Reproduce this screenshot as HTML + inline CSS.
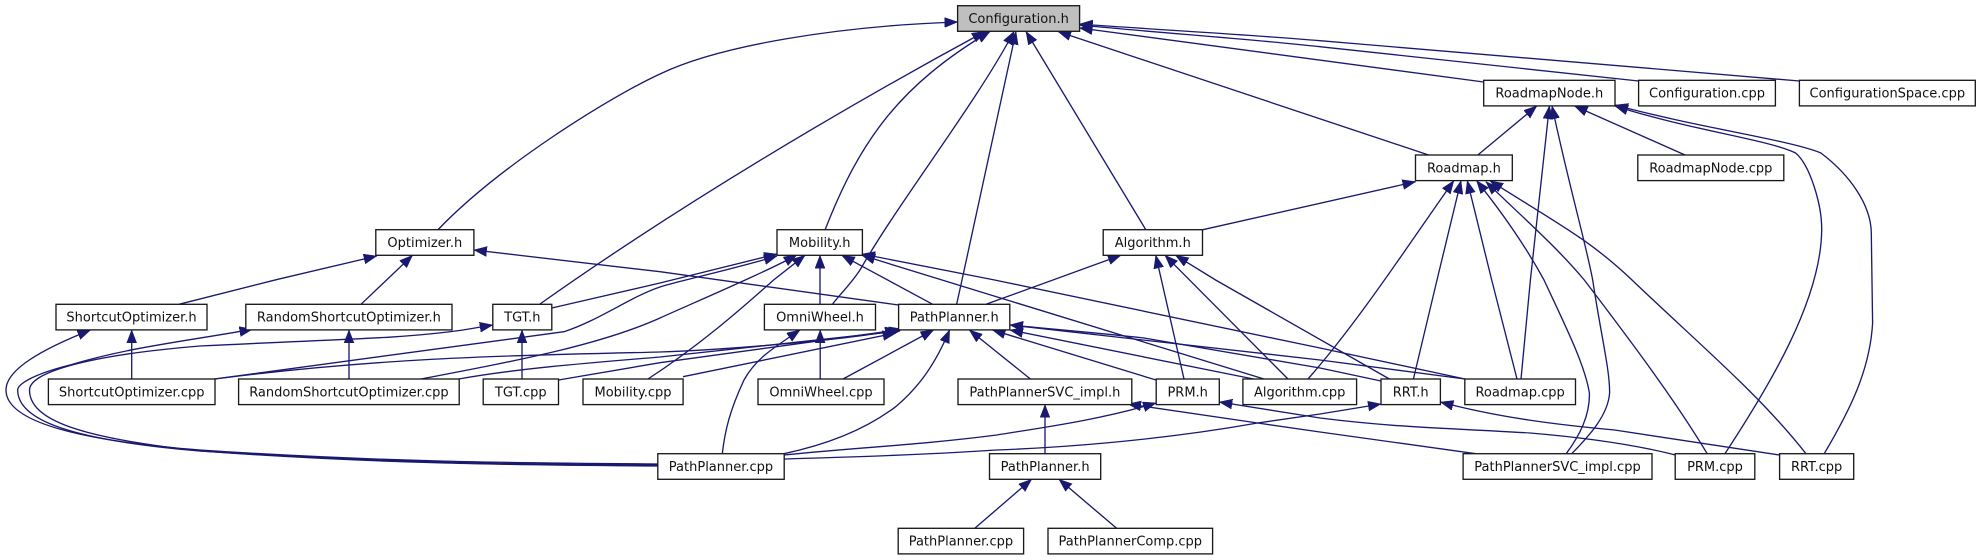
<!DOCTYPE html>
<html><head><meta charset="utf-8"><title>Configuration.h include graph</title>
<style>
html,body{margin:0;padding:0;background:#fff;width:1979px;height:560px;overflow:hidden}
svg{display:block}
.e path{fill:none;stroke:#191970;stroke-width:1.33;marker-start:url(#a)}
.n rect{fill:#fff;stroke:#191919;stroke-width:1.33}
.n rect.g{fill:#bfbfbf}
.n text{font-family:"DejaVu Sans",sans-serif;font-size:13px;text-anchor:middle;fill:#111}
</style></head><body>
<svg width="1979" height="560" viewBox="0 0 1979 560" xmlns="http://www.w3.org/2000/svg">
<defs><marker id="a" markerUnits="userSpaceOnUse" markerWidth="15" markerHeight="12" refX="13" refY="5" orient="auto-start-reverse"><path d="M0 0L13 5L0 10Z" fill="#191970" stroke="#191970" stroke-width=".5"/></marker></defs>
<g class="e">
<!-- Configuration.h parents -->
<path d="M957.6 22C840 26 720 45 660 74C610 97 500 165 437.7 230"/>
<path d="M985 31.5C840 110 680 205 540 304"/>
<path d="M990 31.5C900 85 860 140 825 230"/>
<path d="M1014 31.5C975 105 900 200 860 270C850 285 842 292 832.6 304"/>
<path d="M1016 31.5L962 280L956.7 304"/>
<path d="M1026 31.5L1146 230"/>
<path d="M1058 31.5L1428.6 155"/>
<path d="M1079.6 28L1483.7 82"/>
<path d="M1079.6 25C1160 33 1240 38 1320 46.7C1430 58 1540 70 1638.6 81"/>
<path d="M1079.6 24C1160 30 1240 34 1320 40.7C1480 54 1640 68 1799.4 81"/>
<!-- RoadmapNode.h -->
<path d="M1536.8 106L1477.8 155"/>
<path d="M1549.4 106L1530.4 280L1521 379"/>
<path d="M1552 106C1570 190 1585 240 1592.7 280C1600 330 1610 370 1609.6 393C1608 415 1590 435 1571.7 453.7"/>
<path d="M1574.6 106L1685 155"/>
<path d="M1615 106C1690 130 1770 140 1795.6 153C1810 165 1822 205 1821.7 230C1821 300 1770 385 1724.9 453.7"/>
<path d="M1615 105C1700 128 1790 140 1820.9 153C1850 175 1871 205 1871.3 233L1872.6 323C1870 370 1850 410 1824.2 453.7"/>
<!-- Roadmap.h -->
<path d="M1415.5 181.7L1202.9 229.7"/>
<path d="M1453.8 180.7C1415 235 1360 320 1308 379"/>
<path d="M1461 180.7L1437 280L1413.4 379"/>
<path d="M1467.3 180.7L1491.7 280L1517 379"/>
<path d="M1476.6 180.7C1500 210 1525 245 1544 280C1565 325 1585 365 1589.4 393C1590 415 1580 435 1566.2 453.7"/>
<path d="M1486 181.7C1520 215 1555 245 1584.3 280C1630 340 1675 400 1707.2 453.7"/>
<path d="M1490 180.7C1560 225 1590 240 1632 280C1700 345 1760 395 1806 453.7"/>
<!-- Optimizer.h -->
<path d="M376.7 256L277.8 279.3L178.9 304.3"/>
<path d="M412.5 255.3L361 304.3"/>
<path d="M473.9 250L660 271.7L898.6 305"/>
<!-- Mobility.h -->
<path d="M777 254L660 283L551.8 308"/>
<path d="M777 256C730 270 670 283 660 287C630 297 600 320 564 331.7L214.6 379"/>
<path d="M796.8 255C770 270 700 300 660 318C600 345 520 360 421 379"/>
<path d="M805 255.3L773.6 280C740 310 700 345 648 379"/>
<path d="M820 255.3V304.3"/>
<path d="M841.8 255.3L932.7 304.3"/>
<path d="M862 255.3L942 280L1264 379"/>
<path d="M862 254L994.6 280L1320 348L1465 379"/>
<!-- Algorithm.h -->
<path d="M1120.9 255.3L986 304.3"/>
<path d="M1155.8 255.3L1184 379"/>
<path d="M1165 255.3L1288 379"/>
<path d="M1175.6 255.3L1215.6 280L1389.4 379"/>
<!-- vertical row 4 to row 5 -->
<path d="M131.7 330V379"/>
<path d="M349 330V379"/>
<path d="M522 330V379"/>
<path d="M820.2 330V379"/>
<path d="M1045 404.7V453.7"/>
<!-- OmniWheel.h to PathPlanner.cpp -->
<path d="M800 330C770 350 755 360 744 380C730 410 725 430 722.3 453.7"/>
<!-- PathPlanner.h -->
<path d="M902 329C850 340 720 350 660 352C550 355 400 355 214.6 379"/>
<path d="M900 331L660 357C600 362 520 368 458.8 379"/>
<path d="M898 330L660 362.7L558.5 380"/>
<path d="M895.7 333L683 376.7"/>
<path d="M933.6 330L843 379"/>
<path d="M949.6 330C935 365 918 388 895.7 406.7C865 430 825 445 784 453.7"/>
<path d="M969.4 330L1030.4 379"/>
<path d="M992.5 330L1156 380"/>
<path d="M1010 330L1253.4 379"/>
<path d="M1010 325C1060 330 1100 333 1144 338L1320 368L1381 381"/>
<path d="M1010 325L1320 360L1465 379"/>
<!-- loops into PathPlanner.cpp -->
<path d="M90.5 330C40 350 6 370 6 390C6 420 70 440 200 450C380 462 520 463 657.8 464"/>
<path d="M252.5 329.3C180 342 126 348 70 365C30 375 17.7 385 17.7 390C17.7 420 70 440 200 451C380 463 520 464 657.8 465"/>
<path d="M492.8 325L463 330C400 339 340 339 200 346C90 355 29.5 372 29.5 390C29.5 420 80 438 200 451C380 464 520 465 657.8 466"/>
<!-- row 5 to row 6 -->
<path d="M1156 403C1100 420 1040 428 996.7 435C920 445 850 448 784 455"/>
<path d="M1128 404L1257.6 423L1320 432L1475.7 453.7"/>
<path d="M1219.3 402L1320 418C1400 428 1450 428 1530 433C1590 438 1640 446 1675.6 455"/>
<path d="M1381 404L1320 414L1257.6 423C1150 442 1050 448 996.7 450C920 455 850 457 784 459"/>
<path d="M1440.4 402C1500 418 1560 425 1614.6 430C1680 440 1730 447 1779.6 455"/>
<path d="M1031.6 479.3L974.8 528.3"/>
<path d="M1059 479.3L1116.6 528.3"/>
</g>
<g class="n">
<rect class="g" x="957.6" y="5.7" width="122" height="25.6"/><text x="1018.6" y="23">Configuration.h</text>
<rect x="1483.7" y="80.3" width="131.3" height="25.6"/><text x="1549.3" y="97.6">RoadmapNode.h</text>
<rect x="1638.6" y="80.3" width="136.8" height="25.6"/><text x="1707" y="97.6">Configuration.cpp</text>
<rect x="1799.4" y="80.3" width="175.9" height="25.6"/><text x="1887.3" y="97.6">ConfigurationSpace.cpp</text>
<rect x="1415.5" y="155" width="96.8" height="25.6"/><text x="1463.9" y="172.3">Roadmap.h</text>
<rect x="1637.8" y="155" width="146" height="25.6"/><text x="1710.8" y="172.3">RoadmapNode.cpp</text>
<rect x="375.8" y="229.7" width="98.1" height="25.6"/><text x="424.8" y="247">Optimizer.h</text>
<rect x="777" y="229.7" width="85.4" height="25.6"/><text x="819.7" y="247">Mobility.h</text>
<rect x="1103.2" y="229.7" width="99.3" height="25.6"/><text x="1152.8" y="247">Algorithm.h</text>
<rect x="56" y="304.3" width="151" height="25.6"/><text x="131.5" y="321.6">ShortcutOptimizer.h</text>
<rect x="245.8" y="304.3" width="206.2" height="25.6"/><text x="348.9" y="321.6">RandomShortcutOptimizer.h</text>
<rect x="492.8" y="304.3" width="59" height="25.6"/><text x="522.3" y="321.6">TGT.h</text>
<rect x="764.4" y="304.3" width="111.1" height="25.6"/><text x="820" y="321.6">OmniWheel.h</text>
<rect x="898.6" y="304.3" width="111.2" height="25.6"/><text x="954.2" y="321.6">PathPlanner.h</text>
<rect x="48.4" y="379" width="166.6" height="25.6"/><text x="131.7" y="396.3">ShortcutOptimizer.cpp</text>
<rect x="238.6" y="379" width="220.6" height="25.6"/><text x="348.9" y="396.3">RandomShortcutOptimizer.cpp</text>
<rect x="483.2" y="379" width="75.3" height="25.6"/><text x="520.8" y="396.3">TGT.cpp</text>
<rect x="583" y="379" width="100.1" height="25.6"/><text x="633" y="396.3">Mobility.cpp</text>
<rect x="758" y="379" width="126" height="25.6"/><text x="821" y="396.3">OmniWheel.cpp</text>
<rect x="958" y="379" width="173.8" height="25.6"/><text x="1044.9" y="396.3">PathPlannerSVC_impl.h</text>
<rect x="1156.2" y="379" width="63.1" height="25.6"/><text x="1187.7" y="396.3">PRM.h</text>
<rect x="1242.9" y="379" width="113.7" height="25.6"/><text x="1299.7" y="396.3">Algorithm.cpp</text>
<rect x="1381" y="379" width="59.4" height="25.6"/><text x="1410.7" y="396.3">RRT.h</text>
<rect x="1464.8" y="379" width="110.7" height="25.6"/><text x="1520.1" y="396.3">Roadmap.cpp</text>
<rect x="657.8" y="453.7" width="126.4" height="25.6"/><text x="721" y="471">PathPlanner.cpp</text>
<rect x="989.5" y="453.7" width="111.2" height="25.6"/><text x="1045.1" y="471">PathPlanner.h</text>
<rect x="1463.1" y="453.7" width="188.9" height="25.6"/><text x="1557.5" y="471">PathPlannerSVC_impl.cpp</text>
<rect x="1675.2" y="453.7" width="79.6" height="25.6"/><text x="1715" y="471">PRM.cpp</text>
<rect x="1779.6" y="453.7" width="74.1" height="25.6"/><text x="1816.6" y="471">RRT.cpp</text>
<rect x="898.2" y="528.3" width="125.4" height="25.6"/><text x="960.9" y="545.6">PathPlanner.cpp</text>
<rect x="1048" y="528.3" width="164.6" height="25.6"/><text x="1130.3" y="545.6">PathPlannerComp.cpp</text>
</g>
</svg>
</body></html>
